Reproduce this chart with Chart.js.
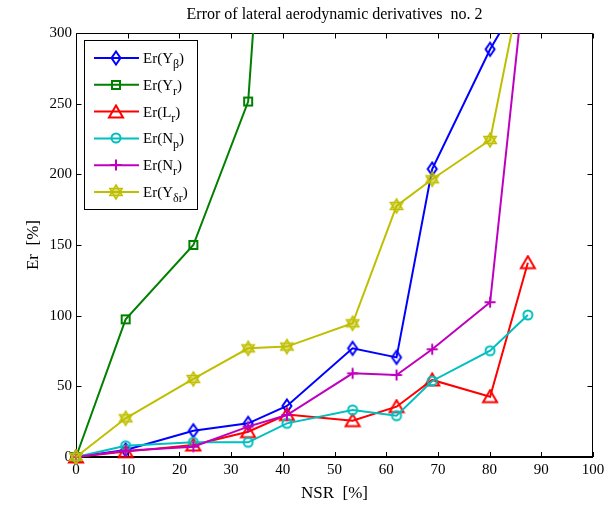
<!DOCTYPE html>
<html><head><meta charset="utf-8">
<script src="https://cdn.jsdelivr.net/npm/chart.js@4"></script>
<style>html,body{margin:0;padding:0;background:#fff;}</style>
</head><body>
<canvas id="c" width="615" height="506" style="display:block;width:615px;height:506px"></canvas>
<script>
// ---- data ----
const nsr      = [0, 9.6, 22.7, 33.3, 40.8, 53.5, 62.0, 68.9, 80.1, 87.4];
const erYbeta  = [0, 5.0, 18.6, 23.8, 36.1, 76.9, 70.5, 203.8, 288.5, 334];
const erYr     = [0, 97.4, 150.0, 251.5, 640, null, null, null, null, null];
const erLr     = [0, 3.8, 8.5, 17.9, 30.0, 25.7, 35.6, 54.5, 42.7, 137.5];
const erNp     = [0, 8.0, 10.4, 10.4, 23.8, 33.3, 29.2, 53.8, 75.2, 100.5];
const erNr     = [0, 4.5, 7.3, 21.5, 29.7, 59.2, 58.0, 76.2, 109.5, 360];
const erYdr    = [0, 27.4, 55.2, 76.9, 78.1, 94.6, 177.6, 196.5, 224.3, 358];
const xTicks   = [0, 10, 20, 30, 40, 50, 60, 70, 80, 90, 100];
const yTicks   = [0, 50, 100, 150, 200, 250, 300];
const legendMain = ['Er(Y', 'Er(Y', 'Er(L', 'Er(N', 'Er(N', 'Er(Y'];
const legendSub  = ['\u03b2', 'r', 'r', 'p', 'r', '\u03b4r'];
const titleText  = 'Error of lateral aerodynamic derivatives  no. 2';
const xLabel = 'NSR  [%]';
const yLabel = 'Er  [%]';

const colors = ['#0000FF', '#008000', '#FF0000', '#00BFBF', '#BF00BF', '#BFBF00'];
const FONT = '"Liberation Serif", "Times New Roman", serif';

function mk(w, h, draw) {
  const c = document.createElement('canvas');
  c.width = w; c.height = h;
  const g = c.getContext('2d');
  g.lineWidth = 2; g.lineJoin = 'miter';
  draw(g);
  return c;
}
const markers = [
  mk(14, 18, g => { g.strokeStyle = colors[0]; g.beginPath(); g.moveTo(7,2.5); g.lineTo(11.5,9); g.lineTo(7,15.5); g.lineTo(2.5,9); g.closePath(); g.stroke(); }),
  mk(12, 12, g => { g.strokeStyle = colors[1]; g.strokeRect(2,2,8,8); }),
  mk(18, 16, g => { g.strokeStyle = colors[2]; g.beginPath(); g.moveTo(9,1.5); g.lineTo(16,13.5); g.lineTo(2,13.5); g.closePath(); g.stroke(); }),
  mk(14, 14, g => { g.strokeStyle = colors[3]; g.beginPath(); g.arc(7,7,4.5,0,Math.PI*2); g.stroke(); }),
  mk(14, 14, g => { g.strokeStyle = colors[4]; g.beginPath(); g.moveTo(7,1.5); g.lineTo(7,12.5); g.moveTo(1.5,7); g.lineTo(12.5,7); g.stroke(); }),
  mk(18, 18, g => { g.strokeStyle = colors[5]; g.fillStyle = colors[5]; g.lineWidth = 1.6;
    const r = 7, cx = 9, cy = 9;
    for (const off of [-Math.PI/2, Math.PI/2]) {
      g.beginPath();
      for (let k = 0; k < 3; k++) { const a = off + k*2*Math.PI/3; const px = cx + r*Math.cos(a), py = cy + r*Math.sin(a); k ? g.lineTo(px,py) : g.moveTo(px,py); }
      g.closePath(); g.stroke();
    }
    g.globalAlpha = 0.5; g.beginPath(); g.arc(cx,cy,3,0,Math.PI*2); g.fill();
  })
];

const series = [erYbeta, erYr, erLr, erNp, erNr, erYdr];
const datasets = series.map((vals, i) => ({
  data: nsr.map((x, j) => ({ x: x, y: vals[j] })),
  borderColor: colors[i],
  backgroundColor: colors[i],
  borderWidth: 2,
  pointStyle: markers[i],
  pointRadius: 6,
  tension: 0,
  spanGaps: false,
  clip: { left: 12, bottom: 12, top: 0, right: 0 },
  order: -i
}));

const framePlugin = {
  id: 'frame',
  beforeDatasetsDraw(chart) {
    const ctx = chart.ctx, a = chart.chartArea;
    const xs = chart.scales.x, ys = chart.scales.y;
    ctx.save();
    ctx.strokeStyle = '#000';
    ctx.lineWidth = 1;
    const L = Math.round(a.left) + 0.5, R = Math.round(a.right) - 0.5, T = Math.round(a.top) + 0.5, B = Math.round(a.bottom);
    ctx.beginPath();
    ctx.moveTo(L, T); ctx.lineTo(R, T); ctx.lineTo(R, B); ctx.moveTo(L, B); ctx.lineTo(L, T);
    ctx.stroke();
    ctx.lineWidth = 2;
    ctx.beginPath(); ctx.moveTo(L - 0.5, B); ctx.lineTo(R + 0.5, B); ctx.stroke();
    ctx.lineWidth = 1;
    ctx.beginPath();
    xTicks.forEach(v => {
      const px = Math.round(xs.getPixelForValue(v)) + 0.5;
      ctx.moveTo(px, B); ctx.lineTo(px, B - 5);
      ctx.moveTo(px, T); ctx.lineTo(px, T + 5);
    });
    yTicks.forEach(v => {
      const py = Math.round(ys.getPixelForValue(v)) + 0.5;
      ctx.moveTo(L, py); ctx.lineTo(L + 5, py);
      ctx.moveTo(R, py); ctx.lineTo(R - 5, py);
    });
    ctx.stroke();

    // title & axis labels
    ctx.fillStyle = '#000';
    ctx.textAlign = 'center';
    ctx.textBaseline = 'alphabetic';
    ctx.font = '16px ' + FONT;
    ctx.fillText(titleText, (a.left + a.right) / 2, 19);
    ctx.font = '17px ' + FONT;
    ctx.fillText(xLabel, (a.left + a.right) / 2, 498);
    ctx.save();
    ctx.translate(38, (a.top + a.bottom) / 2);
    ctx.rotate(-Math.PI / 2);
    ctx.fillText(yLabel, 0, 0);
    ctx.restore();
    ctx.restore();
  },
  afterDatasetsDraw(chart) {
    const ctx = chart.ctx;
    ctx.save();
    // legend
    const bx = 84.5, by = 40.5, bw = 113, bh = 169;
    ctx.fillStyle = '#fff';
    ctx.fillRect(bx, by, bw, bh);
    ctx.strokeStyle = '#000'; ctx.lineWidth = 1;
    ctx.strokeRect(bx, by, bw, bh);
    ctx.textAlign = 'left';
    ctx.textBaseline = 'alphabetic';
    for (let i = 0; i < 6; i++) {
      const y = 58 + i * 26.8;
      ctx.strokeStyle = colors[i]; ctx.lineWidth = 2;
      ctx.beginPath(); ctx.moveTo(94, y); ctx.lineTo(139, y); ctx.stroke();
      const m = markers[i];
      ctx.drawImage(m, Math.round(116 - m.width / 2), Math.round(y - m.height / 2));
      ctx.fillStyle = '#000';
      ctx.font = '15px ' + FONT;
      let tx = 143;
      ctx.fillText(legendMain[i], tx, y + 5);
      tx += ctx.measureText(legendMain[i]).width;
      ctx.font = '12px ' + FONT;
      ctx.fillText(legendSub[i], tx, y + 10);
      tx += ctx.measureText(legendSub[i]).width;
      ctx.font = '15px ' + FONT;
      ctx.fillText(')', tx, y + 5);
    }
    ctx.restore();
  }
};

new Chart(document.getElementById('c'), {
  type: 'line',
  data: { datasets: datasets },
  options: {
    responsive: false,
    devicePixelRatio: 1,
    animation: false,
    layout: { padding: { top: 33, right: 22, left: 0, bottom: 0 } },
    plugins: { legend: { display: false }, title: { display: false }, tooltip: { enabled: false } },
    scales: {
      x: {
        type: 'linear', min: 0, max: 100,
        afterBuildTicks: s => { s.ticks = xTicks.map(v => ({ value: v })); },
        ticks: { color: '#000', font: { family: FONT, size: 15 }, padding: 4, maxRotation: 0, autoSkip: false },
        grid: { display: false, drawTicks: false },
        border: { display: false },
        afterFit: s => { s.height = 49; }
      },
      y: {
        type: 'linear', min: 0, max: 300,
        afterBuildTicks: s => { s.ticks = yTicks.map(v => ({ value: v })); },
        ticks: { color: '#000', font: { family: FONT, size: 15 }, padding: 4, autoSkip: false },
        grid: { display: false, drawTicks: false },
        border: { display: false },
        afterFit: s => { s.width = 76; }
      }
    }
  },
  plugins: [framePlugin]
});
</script>
</body></html>
